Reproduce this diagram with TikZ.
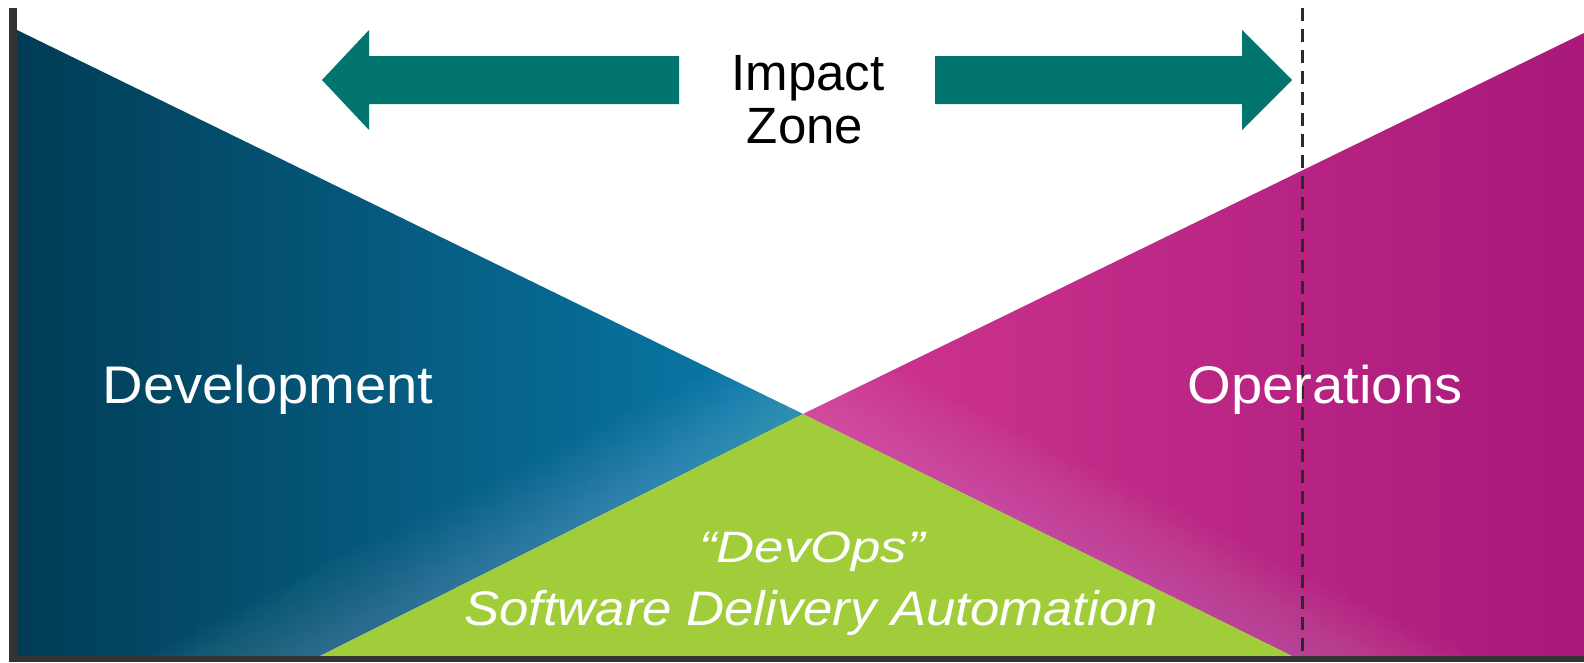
\documentclass[tikz,border=0pt]{standalone}
\usepackage{fontspec}
\setmainfont{Liberation Sans}
\usetikzlibrary{calc}
\definecolor{devdark}{HTML}{013C55}
\definecolor{devlight}{HTML}{0A7CAC}
\definecolor{devglow}{HTML}{A8D8EE}
\definecolor{opslight}{HTML}{D03590}
\definecolor{opsdark}{HTML}{A8197A}
\definecolor{opsglow}{HTML}{F6B8DC}
\definecolor{devopsgreen}{HTML}{A2CD3A}
\definecolor{arrowteal}{HTML}{02766E}
\definecolor{axisgray}{HTML}{333333}
\definecolor{dashgray}{HTML}{2A2A2A}
\tikzset{
  whitelbl/.style={text=white, inner sep=0pt, anchor=base},
  blacklbl/.style={text=black, inner sep=0pt, anchor=base},
  bigarrow/.style={fill=arrowteal},
  glowline/.style={line width=#1, opacity=0.016, line cap=butt},
}
\begin{document}
\begin{tikzpicture}[x=1pt,y=-1pt]
\useasboundingbox (0,0) rectangle (1584,662);
\fill[white] (0,0) rectangle (1584,662);
% key points
\coordinate (TL) at (17,30);
\coordinate (AP) at (803,414);
\coordinate (GL) at (320,656);
\coordinate (GR) at (1292,656);
\coordinate (BL) at (17,656);
\coordinate (TR) at (1584,33);
\coordinate (BR) at (1584,656);
% development region
\shade[left color=devdark, right color=devlight] (TL) -- (AP) -- (GL) -- (BL) -- cycle;
\begin{scope}
  \clip (TL) -- (AP) -- (GL) -- (BL) -- cycle;
  \foreach \w in {8,16,...,160}
    \draw[glowline=\w, devglow] ($(GL)!-0.8!(AP)$) -- ($(AP)!-0.8!(GL)$);
\end{scope}
% operations region
\shade[left color=opslight, right color=opsdark] (AP) -- (TR) -- (BR) -- (GR) -- cycle;
\begin{scope}
  \clip (AP) -- (TR) -- (BR) -- (GR) -- cycle;
  \foreach \w in {8,16,...,160}
    \draw[glowline=\w, opsglow] ($(GR)!-0.8!(AP)$) -- ($(AP)!-0.8!(GR)$);
\end{scope}
% devops triangle
\fill[devopsgreen] (GL) -- (AP) -- (GR) -- cycle;
% axes
\fill[axisgray] (9,8) rectangle (17,662);
\fill[axisgray] (9,656) rectangle (1584,662);
% dashed line
\coordinate (DT) at (1302,8);
\coordinate (DB) at (1302,656);
\draw[dashgray, line width=3pt, dash pattern=on 13pt off 8pt] (DT) -- (DB);
% arrows
\fill[bigarrow] (679,56) -- (369,56) -- (369,30) -- (322,80) -- (369,130) -- (369,104) -- (679,104) -- cycle;
\fill[bigarrow] (935,56) -- (1242,56) -- (1242,30) -- (1292,80) -- (1242,130) -- (1242,104) -- (935,104) -- cycle;
% labels
\node[blacklbl, font=\fontsize{51}{60}\selectfont] (impact) at (808,90) {Impact};
\node[blacklbl, font=\fontsize{51}{60}\selectfont] (zone) at (805,143) {Zone};
\node[whitelbl, font=\fontsize{53}{60}\selectfont] (dev) at (268,403) {\scalebox{1.06}[1]{Development}};
\node[whitelbl, font=\fontsize{53}{60}\selectfont] (ops) at (1325,403) {\scalebox{1.06}[1]{Operations}};
\node[whitelbl, font=\fontsize{44}{50}\selectfont\itshape] (devops) at (812,562) {\scalebox{1.2}[1]{“DevOps”}};
\node[whitelbl, font=\fontsize{48.5}{56}\selectfont\itshape] (sda) at (811,625) {\scalebox{1.086}[1]{Software Delivery Automation}};
\end{tikzpicture}
\end{document}
